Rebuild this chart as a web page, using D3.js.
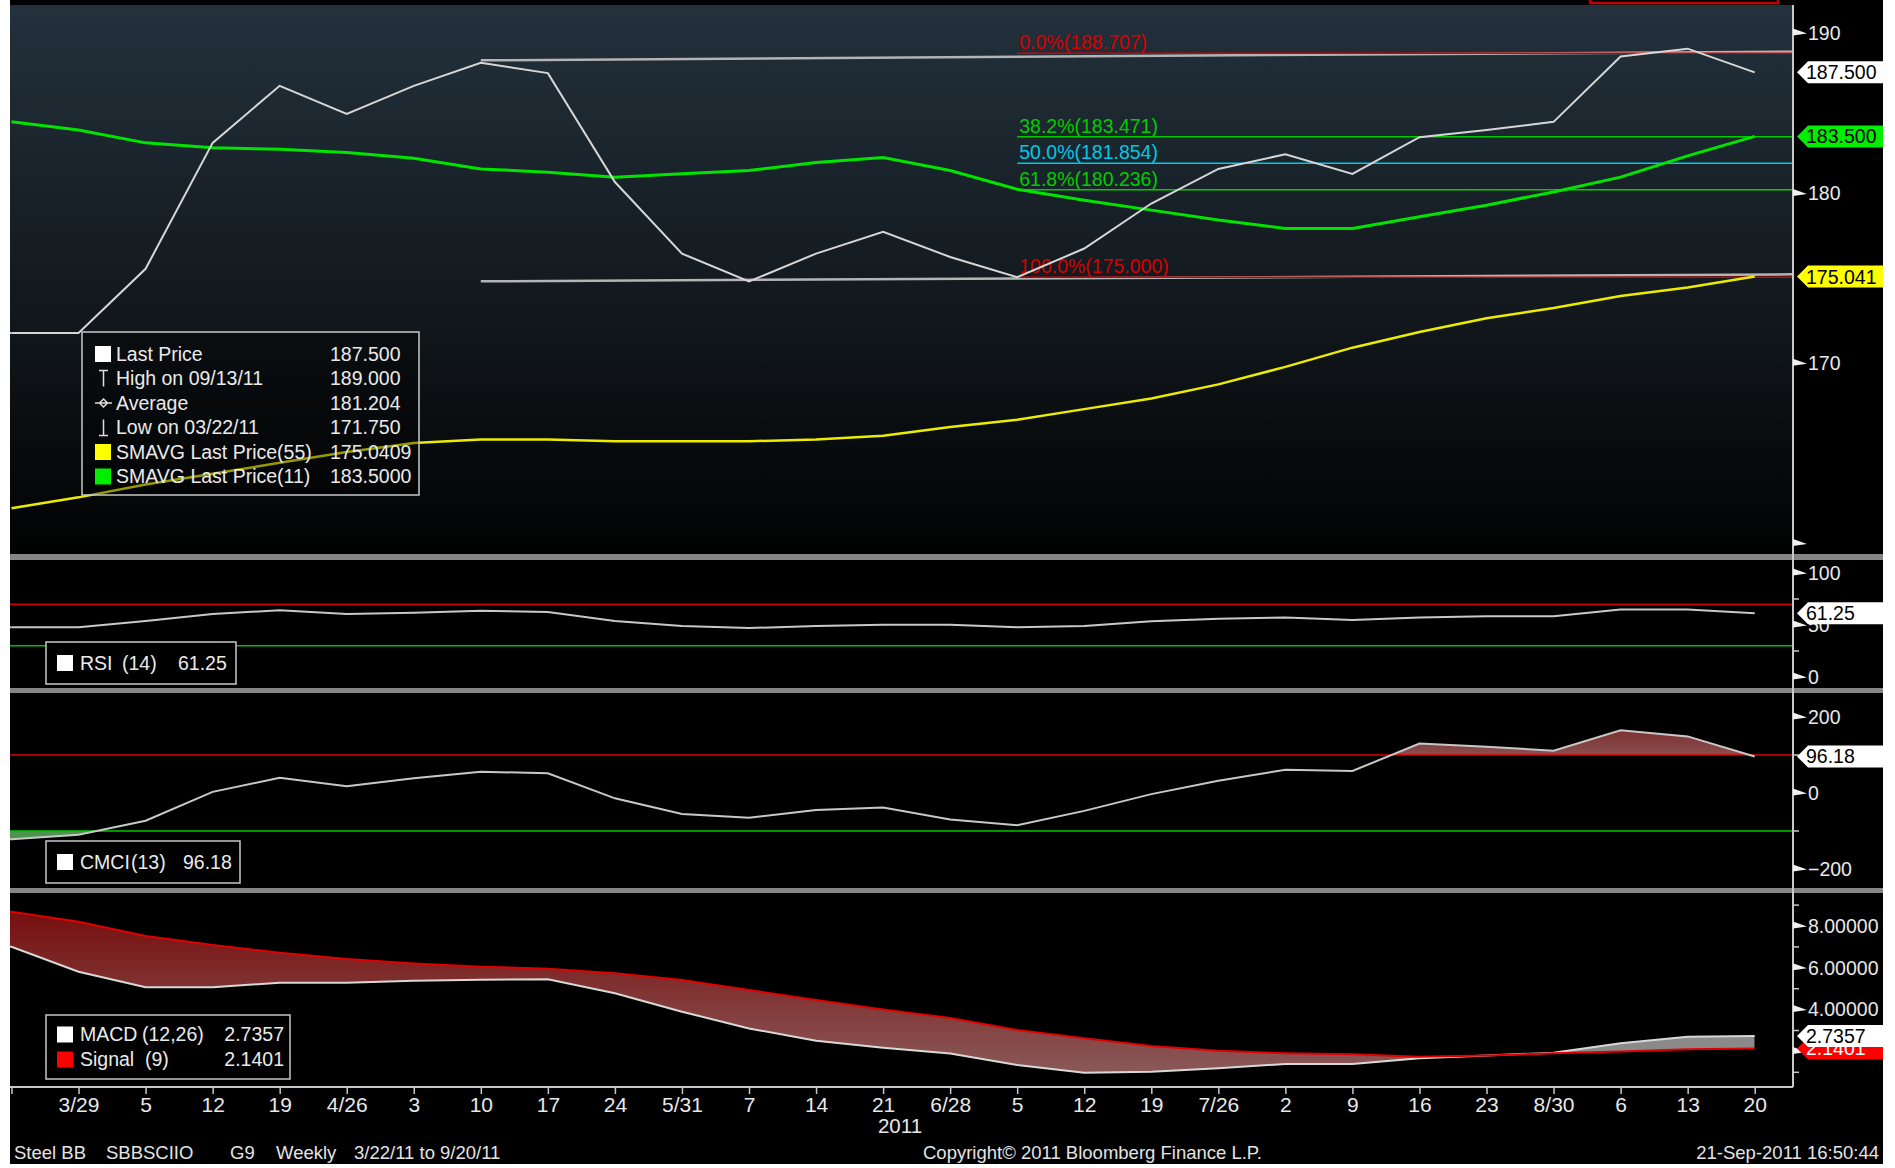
<!DOCTYPE html>
<html>
<head>
<meta charset="utf-8">
<script src="https://cdn.jsdelivr.net/npm/d3@7"></script>
<style>
  body { margin: 0; background: #fff; }
  svg text { font-family: 'Liberation Sans', Arial, sans-serif; }
</style>
</head>
<body>
<div id="chart"></div>
<script>
// Weekly closes, Steel BB SBBSCIIO, 3/22/11 to 9/20/11
const dates = [
  '2011-03-22', '2011-03-29', '2011-04-05', '2011-04-12', '2011-04-19', '2011-04-26',
  '2011-05-03', '2011-05-10', '2011-05-17', '2011-05-24', '2011-05-31', '2011-06-07',
  '2011-06-14', '2011-06-21', '2011-06-28', '2011-07-05', '2011-07-12', '2011-07-19',
  '2011-07-26', '2011-08-02', '2011-08-09', '2011-08-16', '2011-08-23', '2011-08-30',
  '2011-09-06', '2011-09-13', '2011-09-20'
];
const xTickLabels = ['', '3/29', '5', '12', '19', '4/26', '3', '10', '17', '24', '5/31', '7', '14',
  '21', '6/28', '5', '12', '19', '7/26', '2', '9', '16', '23', '8/30', '6', '13', '20'];

const lastPrice = [171.75, 171.75, 175.5, 183.1, 186.65, 184.9, 186.65, 188.1, 187.45, 180.7, 176.4,
  174.75, 176.4, 177.7, 176.2, 175.0, 176.7, 179.4, 181.5, 182.4, 181.2, 183.45, 183.9, 184.4,
  188.5, 189.0, 187.5];
const sma11 = [184.4, 183.9, 183.1, 182.8, 182.7, 182.5, 182.15, 181.5, 181.3, 181.0, 181.2, 181.4,
  181.9, 182.2, 181.4, 180.26, 179.6, 179.0, 178.4, 177.9, 177.9, 178.6, 179.3, 180.1, 181.0,
  182.3, 183.5];
const sma55 = [161.9, 162.5, 163.2, 163.8, 164.4, 165.0, 165.5, 165.7, 165.7, 165.6, 165.6, 165.6,
  165.7, 165.9, 166.4, 166.8, 167.4, 168.0, 168.8, 169.8, 170.9, 171.8, 172.6, 173.2, 173.9,
  174.4, 175.041];
const rsi = [47.8, 47.8, 53.8, 60.6, 64.1, 60.6, 61.8, 63.7, 62.5, 53.8, 49.0, 47.1, 49.0, 50.3,
  50.2, 47.9, 49.0, 53.7, 56.0, 57.2, 54.8, 57.2, 58.4, 58.4, 64.9, 64.9, 61.25];
const cmci = [-122, -110, -73, 3, 40, 18, 39, 56, 52, -14, -55, -65, -45, -38, -70, -85, -47, -3,
  32, 61, 58, 130, 122, 111, 165, 149, 96.18];
const macd = [7.01, 5.81, 5.07, 5.07, 5.29, 5.29, 5.38, 5.43, 5.45, 4.78, 3.9, 3.1, 2.51, 2.18,
  1.9, 1.35, 0.98, 1.03, 1.19, 1.4, 1.4, 1.67, 1.8, 1.94, 2.39, 2.7, 2.7357];
const signal = [8.68, 8.2, 7.52, 7.09, 6.72, 6.42, 6.21, 6.05, 5.96, 5.74, 5.42, 4.94, 4.46, 4.01,
  3.6, 3.02, 2.63, 2.26, 2.03, 1.91, 1.86, 1.75, 1.8, 1.91, 2.0, 2.1, 2.1401];

// Fibonacci retracement drawn from 7/5
const fibStart = '2011-07-05';
const fibPct = ['0.0%', '38.2%', '50.0%', '61.8%', '100.0%'];
const fibValue = [188.707, 183.471, 181.854, 180.236, 175.0];
// hand-drawn trend lines (start date, start value, value at right edge)
const trendStart = '2011-05-10';
const trendHigh = [188.26, 188.81];
const trendLow = [174.76, 175.17];

const priceTicks = [190, 180, 170, 160];
const rsiTicks = [100, 50, 0];
const cmciTicks = [200, 0, -200];
const macdTicks = [8, 6, 4, 2];

const parse = d3.timeParse('%Y-%m-%d');
const dd = dates.map(parse);

const config = {
  width: 1895, height: 1168,
  plotLeft: 10, plotRight: 1792, outerRight: 1883,
  price: { top: 5, bottom: 554 },
  rsi: { top: 560, bottom: 688 },
  cmci: { top: 693, bottom: 888 },
  macd: { top: 893, bottom: 1087 },
};

const svg = d3.select('#chart').append('svg')
  .attr('width', config.width)
  .attr('height', config.height);

const defs = svg.append('defs');

// Scales
const x = d3.scaleTime().domain([dd[0], dd[dd.length - 1]]).range([11.5, 1754.7]);
const edgeDate = x.invert(config.plotRight);
const yPrice = d3.scaleLog().domain([159.43, 191.8]).range([554, 5]);
const yRsi = d3.scaleLinear().domain([0, 100]).range([677, 573]);
const yCmci = d3.scaleLinear().domain([-200, 200]).range([869, 717]);
const yMacd = d3.scaleLinear().domain([0, 8]).range([1093.2, 926]);

// black canvas
svg.append('rect')
  .attr('x', config.plotLeft).attr('y', 0)
  .attr('width', config.outerRight - config.plotLeft).attr('height', 1164)
  .attr('fill', '#000');

// top header remains (cut off in the capture)
svg.append('rect')
  .attr('x', 1590).attr('y', -3).attr('width', 188).attr('height', 6)
  .attr('fill', 'none').attr('stroke', '#c00000').attr('stroke-width', 2.5);

// gradient for the price panel
const bg = defs.append('linearGradient').attr('id', 'bg-grad')
  .attr('x1', 0).attr('y1', 0).attr('x2', 0).attr('y2', 1);
bg.append('stop').attr('offset', '0%').attr('stop-color', '#23313c');
bg.append('stop').attr('offset', '55%').attr('stop-color', '#12181d');
bg.append('stop').attr('offset', '100%').attr('stop-color', '#010202');

svg.append('rect')
  .attr('x', config.plotLeft).attr('y', config.price.top)
  .attr('width', config.plotRight - config.plotLeft)
  .attr('height', config.price.bottom - config.price.top)
  .attr('fill', 'url(#bg-grad)');

// red fill gradients
const redGrad = defs.append('linearGradient').attr('id', 'red-grad')
  .attr('gradientUnits', 'userSpaceOnUse')
  .attr('x1', 0).attr('y1', config.macd.top).attr('x2', 0).attr('y2', config.macd.bottom);
redGrad.append('stop').attr('offset', '0%').attr('stop-color', '#740606');
redGrad.append('stop').attr('offset', '100%').attr('stop-color', '#8c5f5f');

const cmciGrad = defs.append('linearGradient').attr('id', 'cmci-grad')
  .attr('gradientUnits', 'userSpaceOnUse')
  .attr('x1', 0).attr('y1', yCmci(180)).attr('x2', 0).attr('y2', yCmci(100));
cmciGrad.append('stop').attr('offset', '0%').attr('stop-color', '#7a2a2a');
cmciGrad.append('stop').attr('offset', '100%').attr('stop-color', '#8a4e4e');

// clip each panel to its plot box
['price', 'rsi', 'cmci', 'macd'].forEach(k => {
  defs.append('clipPath').attr('id', `clip-${k}`)
    .append('rect')
    .attr('x', config.plotLeft).attr('y', config[k].top)
    .attr('width', config.plotRight - config.plotLeft)
    .attr('height', config[k].bottom - config[k].top);
});

// separators between panels
[[554, 560], [688, 693], [888, 893]].forEach(s => {
  svg.append('rect')
    .attr('x', config.plotLeft).attr('y', s[0])
    .attr('width', config.outerRight - config.plotLeft).attr('height', s[1] - s[0])
    .attr('fill', '#858585');
});

const hline = (g, y, color, width) => g.append('line')
  .attr('x1', config.plotLeft).attr('x2', config.plotRight)
  .attr('y1', y).attr('y2', y)
  .attr('stroke', color).attr('stroke-width', width || 1.5);

const lineGen = (yScale) => d3.line().x((d, i) => x(dd[i])).y(d => yScale(d));

// ---------- Price panel ----------
const pricePanel = svg.append('g').attr('clip-path', 'url(#clip-price)');

// trend lines
[trendHigh, trendLow].forEach(t => {
  pricePanel.append('line')
    .attr('x1', x(parse(trendStart))).attr('y1', yPrice(t[0]))
    .attr('x2', x(edgeDate)).attr('y2', yPrice(t[1]))
    .attr('stroke', '#b4b4b4').attr('stroke-width', 2.5);
});

// fibonacci retracement
const fibColor = ['#d40000', '#00cc00', '#00c8e6', '#00cc00', '#d40000'];
const fibG = pricePanel.append('g');
fibG.selectAll('line')
  .data(fibValue)
  .join('line')
  .attr('x1', x(parse(fibStart))).attr('x2', x(edgeDate))
  .attr('y1', d => yPrice(d)).attr('y2', d => yPrice(d))
  .attr('stroke', (d, i) => fibColor[i]).attr('stroke-width', 1.5);
fibG.selectAll('text')
  .data(fibValue)
  .join('text')
  .attr('x', x(parse(fibStart)) + 2)
  .attr('y', d => yPrice(d) - 4)
  .attr('fill', (d, i) => fibColor[i])
  .attr('font-size', 19.5)
  .text((d, i) => `${fibPct[i]}(${d3.format('.3f')(d)})`);

pricePanel.append('path').datum(sma55)
  .attr('d', lineGen(yPrice)).attr('fill', 'none')
  .attr('stroke', '#ecec00').attr('stroke-width', 2.5);
pricePanel.append('path').datum(sma11)
  .attr('d', lineGen(yPrice)).attr('fill', 'none')
  .attr('stroke', '#00e400').attr('stroke-width', 3);
pricePanel.append('path').datum(lastPrice)
  .attr('d', lineGen(yPrice)).attr('fill', 'none')
  .attr('stroke', '#d6d6d6').attr('stroke-width', 2);

// flat lead-in before first observation
pricePanel.append('line')
  .attr('x1', config.plotLeft).attr('x2', x(dd[0]))
  .attr('y1', yPrice(lastPrice[0])).attr('y2', yPrice(lastPrice[0]))
  .attr('stroke', '#d6d6d6').attr('stroke-width', 2);

// price legend
const legend = svg.append('g');
legend.append('rect')
  .attr('x', 82).attr('y', 332).attr('width', 337).attr('height', 163)
  .attr('fill', '#000').attr('fill-opacity', 0.35)
  .attr('stroke', '#c8c8c8').attr('stroke-width', 1.5);
const legendRows = [
  { label: 'Last Price', value: '187.500', icon: 'box', color: '#fff' },
  { label: 'High on 09/13/11', value: '189.000', icon: 'high' },
  { label: 'Average', value: '181.204', icon: 'avg' },
  { label: 'Low on 03/22/11', value: '171.750', icon: 'low' },
  { label: 'SMAVG Last Price(55)', value: '175.0409', icon: 'box', color: '#ffff00' },
  { label: 'SMAVG Last Price(11)', value: '183.5000', icon: 'box', color: '#00ee00' },
];
legendRows.forEach((r, i) => {
  const cy = 354 + i * 24.5;
  if (r.icon === 'box') {
    legend.append('rect').attr('x', 95).attr('y', cy - 8).attr('width', 16).attr('height', 16)
      .attr('fill', r.color);
  } else if (r.icon === 'high') {
    legend.append('path').attr('d', `M99,${cy - 8}h9M103.5,${cy - 8}v16`)
      .attr('stroke', '#ddd').attr('stroke-width', 1.5).attr('fill', 'none');
  } else if (r.icon === 'low') {
    legend.append('path').attr('d', `M99,${cy + 8}h9M103.5,${cy + 8}v-16`)
      .attr('stroke', '#ddd').attr('stroke-width', 1.5).attr('fill', 'none');
  } else {
    legend.append('path').attr('d', `M95,${cy}h17M103.5,${cy - 4}l4,4l-4,4l-4,-4z`)
      .attr('stroke', '#ddd').attr('stroke-width', 1.5).attr('fill', 'none');
  }
  legend.append('text').attr('x', 116).attr('y', cy).attr('dy', '0.35em')
    .attr('fill', '#eaeaea').attr('font-size', 19.5).text(r.label);
  legend.append('text').attr('x', 330).attr('y', cy).attr('dy', '0.35em')
    .attr('fill', '#eaeaea').attr('font-size', 19.5).text(r.value);
});

// ---------- RSI panel ----------
const rsiPanel = svg.append('g').attr('clip-path', 'url(#clip-rsi)');
hline(rsiPanel, yRsi(70), '#d00000');
hline(rsiPanel, yRsi(30), '#00c000');
rsiPanel.append('path').datum(rsi)
  .attr('d', lineGen(yRsi)).attr('fill', 'none')
  .attr('stroke', '#c8c8c8').attr('stroke-width', 2);
rsiPanel.append('line')
  .attr('x1', config.plotLeft).attr('x2', x(dd[0]))
  .attr('y1', yRsi(rsi[0])).attr('y2', yRsi(rsi[0]))
  .attr('stroke', '#c8c8c8').attr('stroke-width', 2);

// ---------- CMCI panel ----------
const cmciPanel = svg.append('g').attr('clip-path', 'url(#clip-cmci)');
defs.append('clipPath').attr('id', 'clip-cmci-up').append('rect')
  .attr('x', config.plotLeft).attr('y', config.cmci.top)
  .attr('width', config.plotRight - config.plotLeft)
  .attr('height', yCmci(100) - config.cmci.top);
defs.append('clipPath').attr('id', 'clip-cmci-down').append('rect')
  .attr('x', config.plotLeft).attr('y', yCmci(-100))
  .attr('width', config.plotRight - config.plotLeft)
  .attr('height', config.cmci.bottom - yCmci(-100));

cmciPanel.append('path').datum(cmci)
  .attr('clip-path', 'url(#clip-cmci-up)')
  .attr('d', d3.area().x((d, i) => x(dd[i])).y0(yCmci(100)).y1(d => yCmci(d)))
  .attr('fill', 'url(#cmci-grad)');
const cmciLead = [cmci[0]].concat(cmci);
const cmciLeadX = [config.plotLeft].concat(dd.map(d => x(d)));
cmciPanel.append('path').datum(cmciLead)
  .attr('clip-path', 'url(#clip-cmci-down)')
  .attr('d', d3.area().x((d, i) => cmciLeadX[i]).y0(yCmci(-100)).y1(d => yCmci(d)))
  .attr('fill', '#4d944d');
hline(cmciPanel, yCmci(100), '#e00000');
hline(cmciPanel, yCmci(-100), '#00c800');
cmciPanel.append('path').datum(cmciLead)
  .attr('d', d3.line().x((d, i) => cmciLeadX[i]).y(d => yCmci(d)))
  .attr('fill', 'none').attr('stroke', '#c8c8c8').attr('stroke-width', 2);

// ---------- MACD panel ----------
const macdPanel = svg.append('g').attr('clip-path', 'url(#clip-macd)');
const leadX = [config.plotLeft].concat(dd.map(d => x(d)));
const macdLead = [macd[0]].concat(macd);
const signalLead = [signal[0]].concat(signal);
const idx = d3.range(macdLead.length);

defs.append('clipPath').attr('id', 'clip-above-signal').append('path')
  .attr('d', d3.area().x(i => leadX[i]).y0(config.macd.top).y1(i => yMacd(signalLead[i]))(idx)
    + `M${config.plotRight},${config.macd.top}h-20v${config.macd.bottom - config.macd.top}h20z`);
defs.append('clipPath').attr('id', 'clip-below-signal').append('path')
  .attr('d', d3.area().x(i => leadX[i]).y0(config.macd.bottom).y1(i => yMacd(signalLead[i]))(idx));

const band = d3.area().x(i => leadX[i]).y0(i => yMacd(signalLead[i])).y1(i => yMacd(macdLead[i]));
macdPanel.append('path').datum(idx)
  .attr('clip-path', 'url(#clip-below-signal)')
  .attr('d', band).attr('fill', 'url(#red-grad)');
macdPanel.append('path').datum(idx)
  .attr('clip-path', 'url(#clip-above-signal)')
  .attr('d', band).attr('fill', '#8a8a8a');
macdPanel.append('path').datum(idx)
  .attr('d', d3.line().x(i => leadX[i]).y(i => yMacd(macdLead[i])))
  .attr('fill', 'none').attr('stroke', '#d8d8d8').attr('stroke-width', 2);
macdPanel.append('path').datum(idx)
  .attr('d', d3.line().x(i => leadX[i]).y(i => yMacd(signalLead[i])))
  .attr('fill', 'none').attr('stroke', '#e00000').attr('stroke-width', 2);

// ---------- indicator legends ----------
const smallLegend = (x0, y0, w, h, rows) => {
  const g = svg.append('g');
  g.append('rect').attr('x', x0).attr('y', y0).attr('width', w).attr('height', h)
    .attr('fill', '#000').attr('stroke', '#c8c8c8').attr('stroke-width', 1.5);
  rows.forEach((r, i) => {
    const cy = y0 + h / 2 + (i - (rows.length - 1) / 2) * 25;
    g.append('rect').attr('x', x0 + 11).attr('y', cy - 8).attr('width', 16).attr('height', 16)
      .attr('fill', r.color);
    r.parts.forEach(p => {
      g.append('text').attr('x', p[0]).attr('y', cy).attr('dy', '0.35em')
        .attr('text-anchor', p[2] || 'start')
        .attr('fill', '#eaeaea').attr('font-size', 19.5).text(p[1]);
    });
  });
};
smallLegend(46, 642, 190, 42, [{ color: '#fff', parts: [[80, 'RSI'], [122, '(14)'], [178, '61.25']] }]);
smallLegend(46, 841, 194, 42, [{ color: '#fff', parts: [[80, 'CMCI'], [131, '(13)'], [183, '96.18']] }]);
smallLegend(46, 1015, 244, 64, [
  { color: '#fff', parts: [[80, 'MACD'], [142, '(12,26)'], [284, '2.7357', 'end']] },
  { color: '#ff0000', parts: [[80, 'Signal'], [145, '(9)'], [284, '2.1401', 'end']] },
]);

// ---------- right axes ----------
const axisX = config.plotRight + 1;
svg.append('line')
  .attr('x1', axisX).attr('x2', axisX).attr('y1', config.price.top).attr('y2', config.macd.bottom)
  .attr('stroke', '#c8c8c8').attr('stroke-width', 2);

const rightAxis = (scale, ticks, fmt, labelled, minor) => {
  const g = svg.append('g').attr('transform', `translate(${axisX},0)`);
  g.call(d3.axisRight(scale).tickValues(ticks).tickSize(0).tickPadding(15)
    .tickFormat((d) => (labelled.includes(d) ? fmt(d) : '')));
  g.select('.domain').remove();
  g.selectAll('.tick text').attr('fill', '#e8e8e8').attr('font-size', 19.5)
    .attr('font-family', "'Liberation Sans', Arial, sans-serif");
  // pennant-shaped tick marks
  g.selectAll('.tick').append('path')
    .attr('d', 'M0,-5L14,0L0,2Z').attr('fill', '#f0f0f0');
  (minor || []).forEach(m => {
    g.append('line').attr('x1', 0).attr('x2', 6)
      .attr('y1', scale(m)).attr('y2', scale(m))
      .attr('stroke', '#c8c8c8').attr('stroke-width', 1.5);
  });
};
rightAxis(yPrice, priceTicks, d3.format('d'), [190, 180, 170]);
rightAxis(yRsi, rsiTicks, d3.format('d'), rsiTicks, [75, 25]);
rightAxis(yCmci, cmciTicks, d3.format('d'), cmciTicks, [100, -100]);
rightAxis(yMacd, macdTicks, d3.format('.5f'), macdTicks, [9, 7, 5, 3, 1]);

// value tags on the right axis
const tag = (y, text, fill, color) => {
  svg.append('path')
    .attr('d', `M${axisX + 4},${y}L${axisX + 15},${y - 11}H${config.outerRight}V${y + 11}H${axisX + 15}Z`)
    .attr('fill', fill);
  svg.append('text').attr('x', axisX + 13).attr('y', y).attr('dy', '0.36em')
    .attr('fill', color).attr('font-size', 19.5).text(text);
};
tag(yPrice(175.041), '175.041', '#ffff00', '#000');
tag(yPrice(183.5), '183.500', '#00ee00', '#000');
tag(yPrice(187.5), '187.500', '#fff', '#000');
tag(yRsi(61.25), '61.25', '#fff', '#000');
tag(yCmci(96.18), '96.18', '#fff', '#000');
tag(yMacd(2.1401), '2.1401', '#ff0000', '#fff');
tag(yMacd(2.7357), '2.7357', '#fff', '#000');

// ---------- bottom time axis ----------
svg.append('line')
  .attr('x1', config.plotLeft).attr('x2', axisX)
  .attr('y1', config.macd.bottom).attr('y2', config.macd.bottom)
  .attr('stroke', '#c8c8c8').attr('stroke-width', 2);
const xAxisG = svg.append('g').attr('transform', `translate(0,${config.macd.bottom})`);
xAxisG.call(d3.axisBottom(x).tickValues(dd).tickSize(7).tickPadding(3)
  .tickFormat((d, i) => xTickLabels[i]));
xAxisG.select('.domain').remove();
xAxisG.selectAll('.tick line').attr('stroke', '#c8c8c8').attr('stroke-width', 1.5);
xAxisG.selectAll('.tick text').attr('fill', '#e8e8e8').attr('font-size', 21)
  .attr('font-family', "'Liberation Sans', Arial, sans-serif");
svg.append('text').attr('x', 900).attr('y', 1126).attr('dy', '0.35em')
  .attr('text-anchor', 'middle').attr('fill', '#e8e8e8').attr('font-size', 20.5).text('2011');

// footer
const footer = [[14, 'Steel BB'], [106, 'SBBSCIIO'], [230, 'G9'], [276, 'Weekly'], [354, '3/22/11 to 9/20/11'],
  [923, 'Copyright\u00a9 2011 Bloomberg Finance L.P.']];
footer.forEach(f => {
  svg.append('text').attr('x', f[0]).attr('y', 1153).attr('dy', '0.35em')
    .attr('fill', '#e4e4e4').attr('font-size', 18.5).text(f[1]);
});
svg.append('text').attr('x', 1879).attr('y', 1153).attr('dy', '0.35em')
  .attr('text-anchor', 'end').attr('fill', '#e4e4e4').attr('font-size', 18.5).text('21-Sep-2011 16:50:44');
</script>
</body>
</html>
